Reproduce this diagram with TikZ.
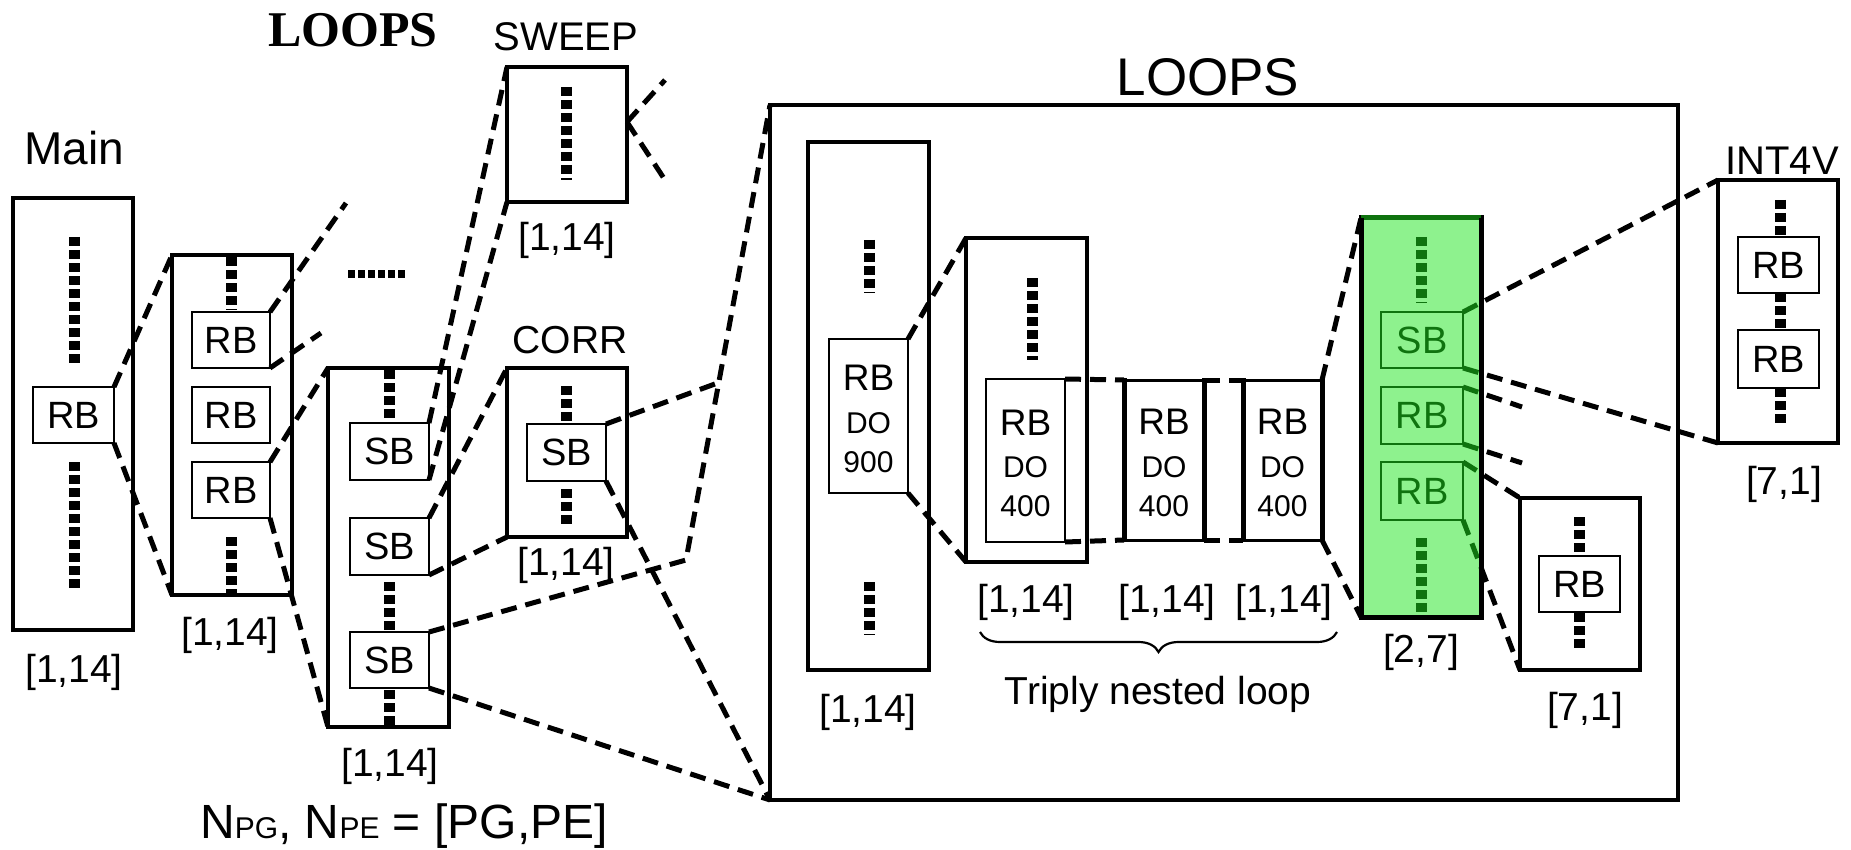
\documentclass[tikz,border=0pt]{standalone}
\usepackage{fontspec}
\setmainfont{Liberation Sans}
\newfontfamily\timesbold{Liberation Serif}
\usetikzlibrary{decorations.pathreplacing,calc}
\definecolor{gfill}{RGB}{30,230,30}
\newcommand\rbdotext[2]{%
  \node[lbl, font=\fontsize{37}{40}\selectfont] (#1r) at ([yshift=38pt]#1.center) {RB};
  \node[lbl, font=\fontsize{30}{32}\selectfont] (#1d) at ([yshift=-7pt]#1.center) {DO};
  \node[lbl, font=\fontsize{30}{32}\selectfont] (#1n) at ([yshift=-46pt]#1.center) {#2};}
\begin{document}
\begin{tikzpicture}[x=1pt,y=-1pt,
  cont/.style={draw, line width=4.8pt, inner sep=0pt, outer sep=0pt},
  inbox/.style={draw, line width=2.5pt, inner sep=0pt, outer sep=0pt, font=\fontsize{38}{40}\selectfont},
  conn/.style={line width=5pt, dash pattern=on 16pt off 9pt},
  dotcol/.style={line width=11pt, dash pattern=on 9pt off 4pt},
  lbl/.style={inner sep=0pt, outer sep=0pt, font=\fontsize{39}{42}\selectfont},
]
\useasboundingbox (0,0) rectangle (1851,850);

% ---------- Main ----------
\node[cont, minimum width=120pt, minimum height=432pt] (main) at (73,414) {};
\node[inbox, minimum width=81pt, minimum height=56pt] (mainrb) at (73.5,415) {RB};
\draw[dotcol] (74,237) -- (74,366);
\draw[dotcol] (74,462) -- (74,591);
\node[lbl, font=\fontsize{46}{48}\selectfont] (tmain) at (74,148) {Main};
\node[lbl] (lmain) at (74,672) {[1,14]};

% ---------- second column ----------
\node[cont, minimum width=120pt, minimum height=340pt] (box2) at (232,425) {};
\node[inbox, minimum width=78pt, minimum height=56pt] (rb1) at (231,340) {RB};
\node[inbox, minimum width=78pt, minimum height=56pt] (rb2) at (231,415) {RB};
\node[inbox, minimum width=78pt, minimum height=56pt] (rb3) at (231,490) {RB};
\draw[dotcol] (231,257) -- (231,310);
\draw[dotcol] (231,537) -- (231,593);
\node[lbl] (lbox2) at (230,635) {[1,14]};
\draw[line width=8pt, dash pattern=on 7pt off 3pt] (348,274) -- (408,274);

% ---------- LOOPS (small) ----------
\node[cont, minimum width=121pt, minimum height=359pt] (box3) at (388.5,547.5) {};
\node[inbox, minimum width=79pt, minimum height=57pt] (sb1) at (389.5,451.5) {SB};
\node[inbox, minimum width=79pt, minimum height=57pt] (sb2) at (389.5,546.5) {SB};
\node[inbox, minimum width=79pt, minimum height=56pt] (sb3) at (389.5,660) {SB};
\draw[dotcol] (389,370) -- (389,422);
\draw[dotcol] (389,582) -- (389,630);
\draw[dotcol] (389,690) -- (389,725);
\node[lbl] (lbox3) at (390,766) {[1,14]};
\node[lbl, font=\timesbold\bfseries\fontsize{50}{52}\selectfont] (tloops) at (353,30) {LOOPS};
\node[lbl, font=\fontsize{48}{50}\selectfont] (tnpg) at (404,826) {N{\fontsize{30}{32}\selectfont PG}, N{\fontsize{30}{32}\selectfont PE} = [PG,PE]};

% ---------- SWEEP ----------
\node[cont, minimum width=120pt, minimum height=135pt] (sweep) at (567,134.5) {};
\draw[dotcol] (566,87) -- (566,180);
\node[lbl, font=\fontsize{40}{42}\selectfont] (tsweep) at (566,37) {SWEEP};
\node[lbl] (lsweep) at (567,240) {[1,14]};
\coordinate (swR) at (627,122);
\coordinate (swA) at (665,80);
\coordinate (swB) at (665,180);

% ---------- CORR ----------
\node[cont, minimum width=120pt, minimum height=169pt] (corr) at (567,452.5) {};
\node[inbox, minimum width=79pt, minimum height=57pt] (corrsb) at (566.5,452.5) {SB};
\draw[dotcol] (566,386) -- (566,422);
\draw[dotcol] (566,489) -- (566,525);
\node[lbl] (tcorr) at (570,340) {CORR};
\node[lbl] (lcorr) at (566,565) {[1,14]};

% ---------- big LOOPS ----------
\node[cont, minimum width=908pt, minimum height=695pt] (big) at (1224,452.5) {};
\node[lbl, font=\fontsize{53}{55}\selectfont] (tbig) at (1208,77) {LOOPS};

\node[cont, minimum width=121pt, minimum height=528pt] (A) at (868.5,406) {};
\node[inbox, minimum width=79pt, minimum height=154pt] (Arb) at (868.5,416) {};
\rbdotext{Arb}{900}
\draw[dotcol] (869,240) -- (869,293);
\draw[dotcol] (869,582) -- (869,635);
\node[lbl] (lA) at (868,712) {[1,14]};

\node[cont, minimum width=121pt, minimum height=324pt] (B) at (1026.5,400) {};
\node[inbox, minimum width=79pt, minimum height=163pt] (Brb) at (1025.5,460.5) {};
\rbdotext{Brb}{400}
\draw[dotcol] (1032,278) -- (1032,360);
\node[lbl] (lB) at (1026,602) {[1,14]};

\node[inner sep=0pt, outer sep=0pt, minimum width=80pt, minimum height=160pt] (C) at (1164,460) {};
\draw[line width=3pt] (C.north west) -- (C.north east) (C.south west) -- (C.south east);
\draw[line width=5pt] ([yshift=2pt]C.north west) -- ([yshift=-2pt]C.south west) ([yshift=2pt]C.north east) -- ([yshift=-2pt]C.south east);
\rbdotext{C}{400}
\node[lbl] (lC) at (1167,602) {[1,14]};

\node[inner sep=0pt, outer sep=0pt, minimum width=79pt, minimum height=160pt] (D) at (1282.5,460) {};
\draw[line width=3pt] (D.north west) -- (D.north east) (D.south west) -- (D.south east);
\draw[line width=5pt] ([yshift=2pt]D.north west) -- ([yshift=-2pt]D.south west) ([yshift=2pt]D.north east) -- ([yshift=-2pt]D.south east);
\rbdotext{D}{400}
\node[lbl] (lD) at (1284,602) {[1,14]};

\draw[decorate, decoration={brace, mirror, amplitude=20pt}, line width=2.2pt] (980,632) -- (1337,632);
\node[lbl] (ttriply) at (1158,694) {Triply nested loop};

% ---------- green ----------
\node[cont, line width=5pt, minimum width=120pt, minimum height=399pt] (green) at (1421,417.5) {};
\node[inbox, minimum width=82pt, minimum height=56pt] (gsb) at (1422,340) {SB};
\node[inbox, minimum width=82pt, minimum height=57pt] (grb1) at (1422,415.5) {RB};
\node[inbox, minimum width=82pt, minimum height=58pt] (grb2) at (1422,491) {RB};
\draw[dotcol] (1421,237) -- (1421,303);
\draw[dotcol] (1421,538) -- (1421,613);
\node[lbl] (lgreen) at (1421,652) {[2,7]};

% ---------- E ----------
\node[cont, minimum width=120pt, minimum height=172pt] (E) at (1580,584) {};
\node[inbox, minimum width=81pt, minimum height=56pt] (erb) at (1579.5,584) {RB};
\draw[dotcol] (1579,517) -- (1579,553);
\draw[dotcol] (1579,613) -- (1579,650);
\node[lbl] (lE) at (1585,710) {[7,1]};

% ---------- INT4V ----------
\node[cont, minimum width=120pt, minimum height=263pt] (int) at (1778,311.5) {};
\node[inbox, minimum width=81pt, minimum height=56pt] (irb1) at (1778.5,265) {RB};
\node[inbox, minimum width=81pt, minimum height=58pt] (irb2) at (1778.5,359) {RB};
\draw[dotcol] (1780,200) -- (1780,237);
\draw[dotcol] (1780,293) -- (1780,330);
\draw[dotcol] (1780,388) -- (1780,425);
\node[lbl, font=\fontsize{40}{42}\selectfont] (tint) at (1782,161) {INT4V};
\node[lbl] (lint) at (1784,484) {[7,1]};

% ---------- connectors ----------
\coordinate (r1a) at (346,203);
\coordinate (r1b) at (321,333);
\coordinate (kink) at (686,560);
\coordinate (g1a) at (1522,407);
\coordinate (g1b) at (1522,463);
\draw[conn] (mainrb.north east) -- (box2.north west);
\draw[conn] (mainrb.south east) -- (box2.south west);
\draw[conn] (rb1.north east) -- (r1a);
\draw[conn] (rb1.south east) -- (r1b);
\draw[conn] (rb3.north east) -- (box3.north west);
\draw[conn] (rb3.south east) -- (box3.south west);
\draw[conn] (sb1.north east) -- (sweep.north west);
\draw[conn] (sb1.south east) -- (sweep.south west);
\draw[conn] (sb2.north east) -- (corr.north west);
\draw[conn] (sb2.south east) -- (corr.south west);
\draw[conn] (sb3.north east) -- (kink) -- (big.north west);
\draw[conn] (corrsb.north east) -- ($(kink)!0.39!(big.north west)$);
\draw[conn] (corrsb.south east) -- (big.south west);
\draw[conn] (sb3.south east) -- (big.south west);
\draw[conn] (swR) -- (swA);
\draw[conn] (swR) -- (swB);
\draw[conn] (Arb.north east) -- (B.north west);
\draw[conn] (Arb.south east) -- (B.south west);
\draw[conn] (Brb.north east) -- (C.north west);
\draw[conn] (Brb.south east) -- (C.south west);
\draw[conn] (C.north east) -- (D.north west);
\draw[conn] (C.south east) -- (D.south west);
\draw[conn] (D.north east) -- (green.north west);
\draw[conn] (D.south east) -- (green.south west);
\draw[conn] (gsb.north east) -- (int.north west);
\draw[conn] (gsb.south east) -- (int.south west);
\draw[conn] (grb1.north east) -- (g1a);
\draw[conn] (grb1.south east) -- (g1b);
\draw[conn] (grb2.north east) -- (E.north west);
\draw[conn] (grb2.south east) -- (E.south west);

% ---------- green overlay ----------
\fill[gfill, opacity=0.5] (1361,215) rectangle (1481,617);
\draw[line width=5pt] (green.north west) -- (green.south west) -- (green.south east) -- (green.north east);
\end{tikzpicture}
\end{document}
